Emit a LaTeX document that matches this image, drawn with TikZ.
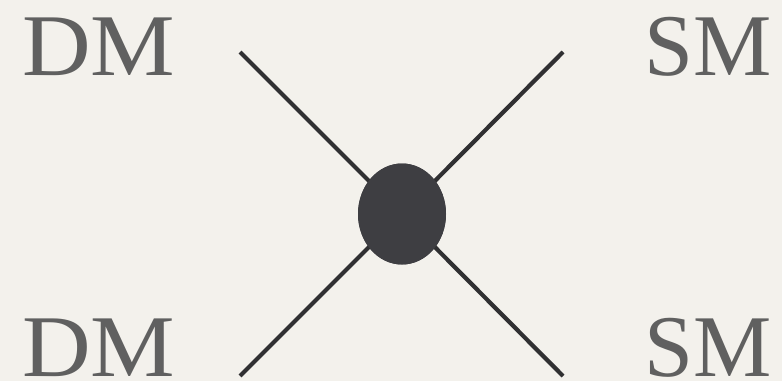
\documentclass[tikz,border=0pt]{standalone}
\usepackage{fontspec}
\setmainfont{Liberation Serif}
\usetikzlibrary{shapes.geometric}
\definecolor{bg}{RGB}{243,241,236}
\definecolor{txt}{RGB}{96,96,96}
\definecolor{ln}{RGB}{48,48,50}
\definecolor{blob}{RGB}{62,62,66}
\begin{document}
\begin{tikzpicture}[x=1pt,y=1pt,
  lab/.style={text=txt,inner sep=0pt,font=\fontsize{88}{88}\selectfont},
  leg/.style={draw=ln,line width=4.2pt},
  vertex/.style={ellipse,fill=blob,draw=none,minimum width=88pt,minimum height=101pt,inner sep=0pt}]
\fill[bg] (0,0) rectangle (782,381);
\useasboundingbox (0,0) rectangle (782,381);
\node[vertex] (v) at (402,167) {};
\coordinate (tl) at (240,329);
\coordinate (tr) at (563,329);
\coordinate (bl) at (240,5);
\coordinate (br) at (563,5);
\draw[leg] (tl) -- (v.center);
\draw[leg] (tr) -- (v.center);
\draw[leg] (bl) -- (v.center);
\draw[leg] (br) -- (v.center);
\node[vertex] at (v.center) {};
\node[lab,anchor=base west] (dm1) at (22,305) {\scalebox{1.08}[1]{DM}};
\node[lab,anchor=base east] (sm1) at (772,305) {SM};
\node[lab,anchor=base west] (dm2) at (22,5) {\scalebox{1.08}[1]{DM}};
\node[lab,anchor=base east] (sm2) at (772,5) {SM};
\end{tikzpicture}
\end{document}
